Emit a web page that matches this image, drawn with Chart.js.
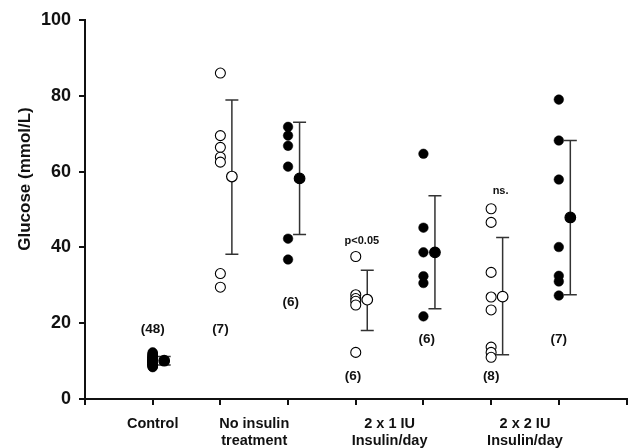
<!DOCTYPE html>
<html>
<head>
<meta charset="utf-8">
<script src="https://cdn.jsdelivr.net/npm/chart.js@4"></script>
<style>
  body { margin: 0; background: #fff; }
  #wrap { width: 633px; height: 448px; }
</style>
</head>
<body>
<div id="wrap"><canvas id="glucoseChart"></canvas></div>
<script>
// individual animals, x = column on the axis
var controlVals = [8.4, 8.5, 8.6, 8.7, 8.8, 8.9, 9.0, 9.0, 9.1, 9.2, 9.3, 9.3, 9.4, 9.5, 9.5, 9.6,
  9.7, 9.7, 9.8, 9.9, 9.9, 10.0, 10.0, 10.1, 10.1, 10.2, 10.2, 10.3, 10.4, 10.4, 10.5, 10.6,
  10.6, 10.7, 10.8, 10.9, 11.0, 11.0, 11.1, 11.2, 11.3, 11.4, 11.5, 11.6, 11.8, 11.9, 12.1, 12.3];
var noInsulinOpen = [86.0, 69.5, 66.4, 63.8, 62.5, 33.1, 29.5];
var noInsulinFilled = [71.8, 69.5, 66.8, 61.3, 42.3, 36.8];
var iu1Open = [37.6, 27.5, 26.5, 25.8, 24.8, 12.3];
var iu1Filled = [64.7, 45.2, 38.7, 32.4, 30.6, 21.8];
var iu2Open = [50.2, 46.6, 33.4, 26.9, 23.5, 13.7, 12.3, 11.0];
var iu2Filled = [79.0, 68.2, 57.9, 40.1, 32.5, 31.0, 27.3];

// mean +/- SD markers
var meanX = [1.17, 2.17, 3.17, 4.17, 5.17, 6.17, 7.17];
var meanY = [10.1, 58.7, 58.2, 26.2, 38.7, 27.0, 47.9];
var errLow = [9.0, 38.2, 43.4, 18.1, 23.8, 11.7, 27.5];
var errHigh = [11.2, 78.9, 73.0, 34.0, 53.6, 42.6, 68.2];
var meanFilled = [true, false, true, false, true, false, true];

// axis labels
var xTickValues = [0, 1, 2, 2.5, 3, 4, 4.5, 5, 6, 6.5, 7, 8];
var catPos = [1, 2.5, 4.5, 6.5];
var catLabels = [['Control'], ['No insulin', 'treatment'], ['2 x 1 IU', 'Insulin/day'], ['2 x 2 IU', 'Insulin/day']];
var yTicks = [0, 20, 40, 60, 80, 100];

// n counts and significance notes
var noteText = ['(48)', '(7)', '(6)', '(6)', '(6)', '(8)', '(7)', 'p<0.05', 'ns.'];
var noteX = [1, 2, 3.04, 3.96, 5.05, 6, 7, 4.09, 6.14];
var noteY = [18.5, 18.5, 25.5, 6.0, 15.8, 6.0, 15.8, 41.8, 55.0];
var noteSize = [13.5, 13.5, 13.5, 13.5, 13.5, 13.5, 13.5, 11, 11];

var FONT = '"Liberation Sans", Arial, sans-serif';

function pts(x, vals) {
  return vals.map(function (v) { return { x: x, y: v }; });
}

function openSet(x, vals) {
  return { data: pts(x, vals), pointRadius: 5, backgroundColor: '#fff', borderColor: '#000', borderWidth: 1.1 };
}
function filledSet(x, vals) {
  return { data: pts(x, vals), pointRadius: 4.8, backgroundColor: '#000', borderColor: '#000', borderWidth: 0.5 };
}

var meanPts = meanX.map(function (x, i) { return { x: x, y: meanY[i] }; });

var errorBars = {
  id: 'errorBars',
  beforeDatasetsDraw: function (chart) {
    var ctx = chart.ctx, xs = chart.scales.x, ys = chart.scales.y;
    ctx.save();
    ctx.strokeStyle = '#333';
    ctx.lineWidth = 1.5;
    for (var i = 0; i < meanX.length; i++) {
      var px = xs.getPixelForValue(meanX[i]);
      var top = ys.getPixelForValue(errHigh[i]);
      var bot = ys.getPixelForValue(errLow[i]);
      ctx.beginPath();
      ctx.moveTo(px, top); ctx.lineTo(px, bot);
      ctx.moveTo(px - 6.5, top); ctx.lineTo(px + 6.5, top);
      ctx.moveTo(px - 6.5, bot); ctx.lineTo(px + 6.5, bot);
      ctx.stroke();
    }
    ctx.restore();
  },
  afterDatasetsDraw: function (chart) {
    var ctx = chart.ctx, xs = chart.scales.x, ys = chart.scales.y;
    ctx.save();
    ctx.fillStyle = '#111';
    ctx.textAlign = 'center';
    ctx.textBaseline = 'middle';
    for (var i = 0; i < noteText.length; i++) {
      ctx.font = 'bold ' + noteSize[i] + 'px ' + FONT;
      ctx.fillText(noteText[i], xs.getPixelForValue(noteX[i]), ys.getPixelForValue(noteY[i]));
    }
    // y axis title
    ctx.translate(25, 179);
    ctx.rotate(-Math.PI / 2);
    ctx.font = 'bold 17px ' + FONT;
    ctx.fillText('Glucose (mmol/L)', 0, 0);
    ctx.restore();
  }
};

var ctx = document.getElementById('glucoseChart').getContext('2d');
var chart = new Chart(ctx, {
  type: 'scatter',
  data: {
    datasets: [
      filledSet(1, controlVals),
      openSet(2, noInsulinOpen),
      filledSet(3, noInsulinFilled),
      openSet(4, iu1Open),
      filledSet(5, iu1Filled),
      openSet(6, iu2Open),
      filledSet(7, iu2Filled),
      {
        data: meanPts,
        pointRadius: 5.3,
        backgroundColor: meanFilled.map(function (f) { return f ? '#000' : '#fff'; }),
        borderColor: '#000',
        borderWidth: 1.2
      }
    ]
  },
  options: {
    responsive: true,
    maintainAspectRatio: false,
    animation: false,
    layout: { padding: { top: 20, right: 4, left: 0, bottom: 0 } },
    plugins: { legend: { display: false }, tooltip: { enabled: false } },
    scales: {
      x: {
        type: 'linear',
        min: 0, max: 8,
        afterBuildTicks: function (scale) {
          scale.ticks = xTickValues.map(function (v) { return { value: v }; });
        },
        afterFit: function (scale) {
          scale.height = 49;
          scale.paddingLeft = 0;
          scale.paddingRight = 0;
        },
        border: { color: '#111', width: 2 },
        grid: {
          drawOnChartArea: false,
          tickLength: 6,
          lineWidth: 2,
          color: function (c) { return (c.tick && c.tick.value % 1 !== 0) ? 'rgba(0,0,0,0)' : '#111'; }
        },
        ticks: {
          autoSkip: false,
          maxRotation: 0,
          padding: 10,
          color: '#111',
          font: { family: FONT, size: 14.5, weight: 'bold', lineHeight: 1.2 },
          callback: function (v) {
            var k = catPos.indexOf(v);
            return k >= 0 ? catLabels[k] : '';
          }
        }
      },
      y: {
        min: 0, max: 100,
        afterBuildTicks: function (scale) {
          scale.ticks = yTicks.map(function (v) { return { value: v }; });
        },
        afterFit: function (scale) { scale.width = 85; },
        border: { color: '#111', width: 2 },
        grid: { drawOnChartArea: false, tickLength: 6, lineWidth: 2, color: '#111' },
        ticks: {
          padding: 8,
          color: '#111',
          font: { family: FONT, size: 18, weight: 'bold' }
        }
      }
    }
  },
  plugins: [errorBars]
});
</script>
</body>
</html>
